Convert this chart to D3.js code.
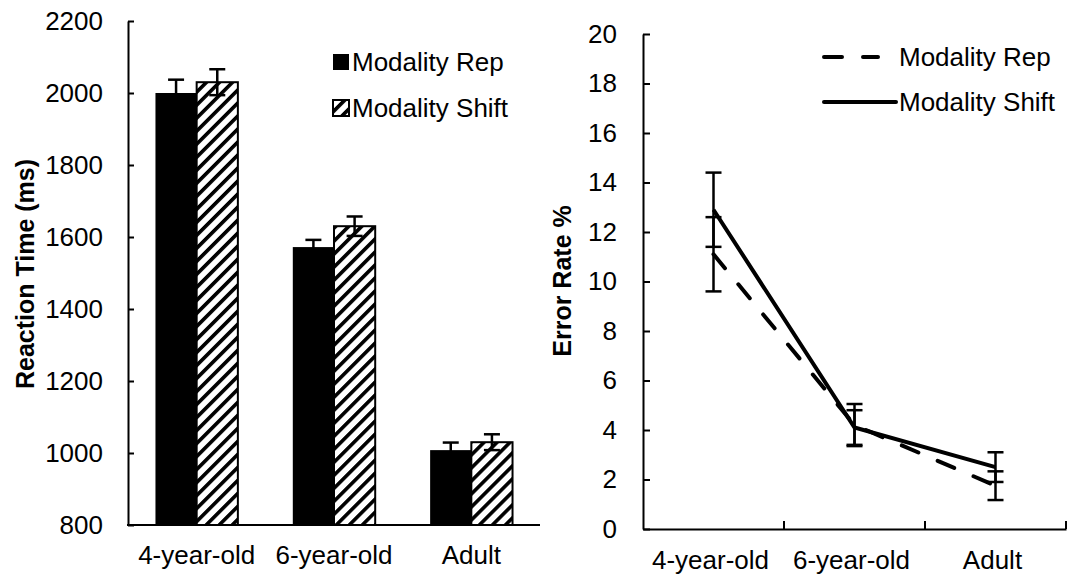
<!DOCTYPE html>
<html>
<head>
<meta charset="utf-8">
<script src="https://cdn.jsdelivr.net/npm/d3@7"></script>
<style>
	body { margin: 0; background: #fff; }
	svg text { font-family: "Liberation Sans", Arial, sans-serif; fill: #000; }
</style>
</head>
<body>
<svg id="fig" width="1078" height="577"></svg>
<script>
// --- data ---
var groups = ["4-year-old", "6-year-old", "Adult"];
var series = ["Modality Rep", "Modality Shift"];

// reaction time (ms)
var rtRep = [2000, 1572, 1008];
var rtShift = [2030, 1630, 1030];
var rtRepErr = [37, 20, 21];
var rtShiftErr = [36, 27, 22];
var rtTicks = [800, 1000, 1200, 1400, 1600, 1800, 2000, 2200];

// error rate %
var erRep = [11.1, 4.2, 1.75];
var erShift = [12.9, 4.1, 2.5];
var erRepErr = [1.5, 0.85, 0.58];
var erShiftErr = [1.5, 0.7, 0.6];
var erTicks = [0, 2, 4, 6, 8, 10, 12, 14, 16, 18, 20];

var FS = 26;
var svg = d3.select("#fig");

// hatch for shift bars
var defs = svg.append("defs");
defs.append("pattern")
	.attr("id", "hatch")
	.attr("patternUnits", "userSpaceOnUse")
	.attr("width", 9.2).attr("height", 9.2)
	.attr("patternTransform", "rotate(45)")
	.call(function(p){
		p.append("rect").attr("width", 9.2).attr("height", 9.2).attr("fill", "#fff");
		p.append("rect").attr("x", 0).attr("width", 3.6).attr("height", 9.2).attr("fill", "#000");
	});

function styleAxis(g){
	g.select(".domain").attr("stroke", "#000").attr("stroke-width", 2);
	g.selectAll(".tick line").attr("stroke", "#000").attr("stroke-width", 2);
	g.selectAll(".tick text")
		.attr("font-size", FS)
		.attr("font-family", "Liberation Sans, Arial, sans-serif")
		.attr("fill", "#000");
}

function errBar(g, x, y0, y1, w, sw){
	g.append("line").attr("x1", x).attr("x2", x).attr("y1", y0).attr("y2", y1)
		.attr("stroke", "#000").attr("stroke-width", sw);
	[y0, y1].forEach(function(y){
		g.append("line").attr("x1", x - w/2).attr("x2", x + w/2).attr("y1", y).attr("y2", y)
			.attr("stroke", "#000").attr("stroke-width", sw);
	});
}

// ================= left: reaction time bars =================
(function(){
	var y = d3.scaleLinear().domain([800, 2200]).range([525, 21]);
	var x = d3.scaleBand().domain(groups).range([128, 540]);
	var bw = x.bandwidth() * 0.3;

	var g = svg.append("g");

	// bars
	var vals = [rtRep, rtShift];
	var errs = [rtRepErr, rtShiftErr];
	series.forEach(function(s, si){
		groups.forEach(function(c, i){
			var cx = x(c) + x.bandwidth()/2;
			var bx = si === 0 ? cx - bw : cx;
			g.append("rect")
				.attr("x", bx).attr("y", y(vals[si][i]))
				.attr("width", bw).attr("height", y(800) - y(vals[si][i]))
				.attr("fill", si === 0 ? "#000" : "url(#hatch)")
				.attr("stroke", "#000").attr("stroke-width", si === 0 ? 0 : 2);
		});
	});
	// error bars drawn on top
	series.forEach(function(s, si){
		groups.forEach(function(c, i){
			var cx = x(c) + x.bandwidth()/2 + (si === 0 ? -bw/2 : bw/2);
			errBar(g, cx, y(vals[si][i] - errs[si][i]), y(vals[si][i] + errs[si][i]), 16, 2.5);
		});
	});

	var ya = g.append("g").attr("transform", "translate(128,0)")
		.call(d3.axisLeft(y).tickValues(rtTicks).tickFormat(d3.format("d"))
			.tickSizeInner(-6).tickSizeOuter(0).tickPadding(25));
	styleAxis(ya);

	g.append("line").attr("x1", 127).attr("x2", 540).attr("y1", 525).attr("y2", 525)
		.attr("stroke", "#000").attr("stroke-width", 2);

	g.selectAll(".xlab").data(groups).enter().append("text")
		.attr("x", function(d){ return x(d) + x.bandwidth()/2; })
		.attr("y", 564)
		.attr("text-anchor", "middle")
		.attr("font-size", FS)
		.text(function(d){ return d; });

	g.append("text")
		.attr("transform", "translate(34,274) rotate(-90)")
		.attr("text-anchor", "middle")
		.attr("font-size", 25).attr("font-weight", "bold")
		.text("Reaction Time (ms)");

	// legend
	var lg = g.append("g");
	series.forEach(function(s, i){
		var ly = 54 + i * 46;
		lg.append("rect").attr("x", 333).attr("y", ly).attr("width", 16).attr("height", 16)
			.attr("fill", i === 0 ? "#000" : "url(#hatch)")
			.attr("stroke", "#000").attr("stroke-width", i === 0 ? 0 : 2);
		lg.append("text").attr("x", 352).attr("y", ly + 17)
			.attr("font-size", FS).text(s);
	});
}());

// ================= right: error rate lines =================
(function(){
	var y = d3.scaleLinear().domain([0, 20]).range([529, 34]);
	var x = d3.scaleBand().domain(groups).range([643, 1066]);
	var cx = function(c){ return x(c) + x.bandwidth()/2; };

	var g = svg.append("g");

	var ya = g.append("g").attr("transform", "translate(643,0)")
		.call(d3.axisLeft(y).tickValues(erTicks).tickSizeInner(-7).tickSizeOuter(0).tickPadding(26));
	styleAxis(ya);

	var xa = g.append("g").attr("transform", "translate(0,529)")
		.call(d3.axisBottom(x).tickSize(0).tickFormat(""));
	xa.select(".domain").attr("stroke", "#000").attr("stroke-width", 2);
	// category boundary ticks pointing up
	var bounds = groups.map(function(c){ return x(c) + x.bandwidth(); });
	g.selectAll(".bt").data(bounds).enter().append("line")
		.attr("x1", function(d){ return d; }).attr("x2", function(d){ return d; })
		.attr("y1", 529).attr("y2", 521)
		.attr("stroke", "#000").attr("stroke-width", 2);

	g.selectAll(".xlab").data(groups).enter().append("text")
		.attr("x", function(d){ return cx(d) - 3; })
		.attr("y", 569)
		.attr("text-anchor", "middle")
		.attr("font-size", FS)
		.text(function(d){ return d; });

	g.append("text")
		.attr("transform", "translate(571,281) rotate(-90)")
		.attr("text-anchor", "middle")
		.attr("font-size", 25).attr("font-weight", "bold")
		.text("Error Rate %");

	var vals = [erRep, erShift];
	var errs = [erRepErr, erShiftErr];

	series.forEach(function(s, si){
		groups.forEach(function(c, i){
			errBar(g, cx(c), y(vals[si][i] - errs[si][i]), y(vals[si][i] + errs[si][i]), 16, 2.5);
		});
	});

	var line = d3.line()
		.x(function(d, i){ return cx(groups[i]); })
		.y(function(d){ return y(d); });

	series.forEach(function(s, si){
		g.append("path").datum(vals[si])
			.attr("d", line)
			.attr("fill", "none")
			.attr("stroke", "#000").attr("stroke-width", 4)
			.attr("stroke-linecap", si === 0 ? "round" : "butt")
			.attr("stroke-dasharray", si === 0 ? "18,21" : null);
	});

	// legend
	series.forEach(function(s, i){
		var ly = 57 + i * 45;
		g.append("line").attr("x1", 824).attr("x2", i === 0 ? 878 : 896)
			.attr("y1", ly).attr("y2", ly)
			.attr("stroke", "#000").attr("stroke-width", 4)
			.attr("stroke-linecap", "round")
			.attr("stroke-dasharray", i === 0 ? "18,21" : null);
		g.append("text").attr("x", 899).attr("y", ly + 9)
			.attr("font-size", FS).text(s);
	});
}());
</script>
</body>
</html>
